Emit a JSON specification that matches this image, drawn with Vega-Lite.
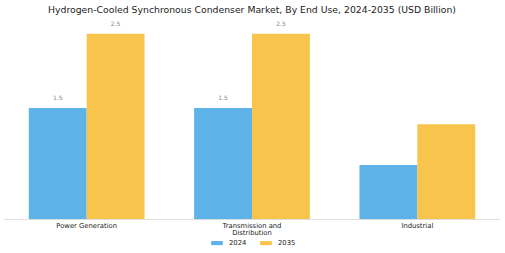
{
  "$schema": "https://vega.github.io/schema/vega-lite/v6.json",
  "autosize": "none",
  "width": 496,
  "height": 200,
  "padding": {"left": 4, "top": 19, "right": 5, "bottom": 34},
  "background": "white",
  "title": {"text": "Hydrogen-Cooled Synchronous Condenser Market, By End Use, 2024-2035 (USD Billion)", "fontSize": 9.3, "font": "DejaVu Sans", "fontWeight": "normal", "color": "#222222", "anchor": "middle", "offset": 4},
  "data": {"values": [
    {"segment": "Power Generation", "year": "2024", "value": 1.5, "label": "1.5"},
    {"segment": "Power Generation", "year": "2035", "value": 2.5, "label": "2.5"},
    {"segment": "Transmission and Distribution", "year": "2024", "value": 1.5, "label": "1.5"},
    {"segment": "Transmission and Distribution", "year": "2035", "value": 2.5, "label": "2.5"},
    {"segment": "Industrial", "year": "2024", "value": 0.73, "label": ""},
    {"segment": "Industrial", "year": "2035", "value": 1.28, "label": ""}
  ]},
  "encoding": {
    "x": {"field": "segment", "type": "nominal", "sort": null,
      "scale": {"paddingInner": 0.3, "paddingOuter": 0.15},
      "axis": {"title": null, "labelAngle": 0, "ticks": false, "domainColor": "#dddddd", "labelFont": "DejaVu Sans", "labelFontSize": 6.8, "labelLineHeight": 7.5, "labelColor": "#222222", "labelPadding": 3,
        "labelExpr": "datum.value == 'Transmission and Distribution' ? ['Transmission and', 'Distribution'] : datum.value"}},
    "xOffset": {"field": "year", "type": "nominal"},
    "y": {"field": "value", "type": "quantitative", "scale": {"domain": [0, 2.7]}, "axis": null}
  },
  "layer": [
    {"mark": {"type": "bar"},
     "encoding": {"color": {"field": "year", "type": "nominal",
       "scale": {"domain": ["2024", "2035"], "range": ["#5DB3E8", "#F9C44C"]},
       "legend": {"title": null, "orient": "none", "direction": "horizontal", "legendX": 207, "legendY": 218,
         "symbolType": "M-1,-0.35L1,-0.35L1,0.35L-1,0.35Z", "symbolSize": 137, "symbolStrokeWidth": 0,
         "labelFont": "DejaVu Sans", "labelFontSize": 6.8, "labelColor": "#222222", "labelOffset": 6, "columnPadding": 13}}}},
    {"mark": {"type": "text", "dy": -10, "fontSize": 6, "font": "DejaVu Sans", "color": "#888888"},
     "encoding": {"text": {"field": "label"}}}
  ],
  "config": {"view": {"stroke": null}}
}
